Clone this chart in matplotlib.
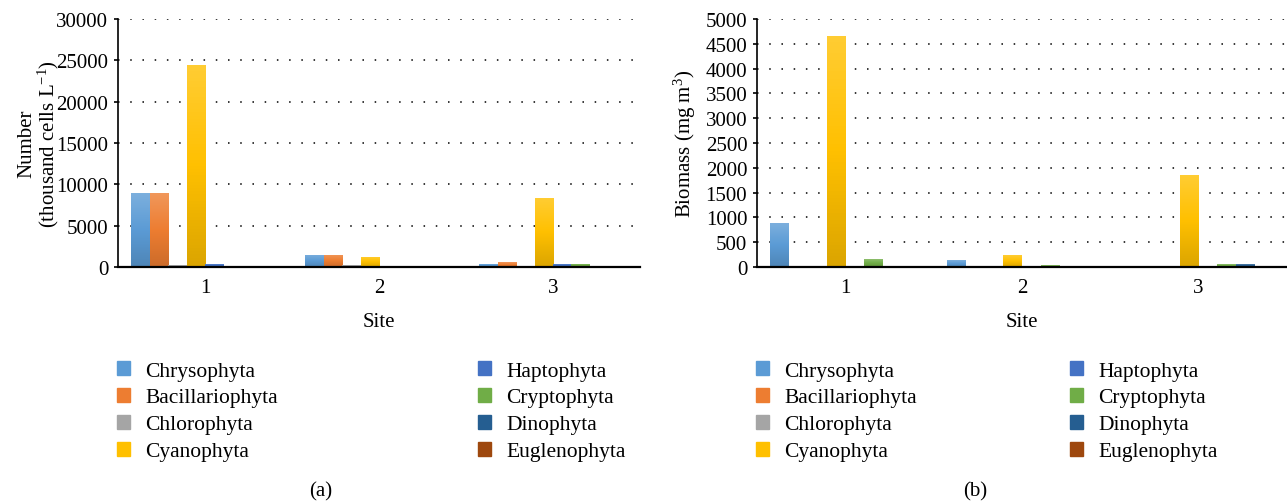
import numpy as np
import matplotlib.pyplot as plt
from matplotlib.colors import LinearSegmentedColormap, to_rgb

plt.rcParams["font.family"] = ["Liberation Serif", "DejaVu Serif"]
plt.rcParams["mathtext.fontset"] = "custom"
plt.rcParams["mathtext.rm"] = "Liberation Serif"
plt.rcParams["mathtext.it"] = "Liberation Serif:italic"

sites = ["1", "2", "3"]
groups = ["Chrysophyta", "Bacillariophyta", "Chlorophyta", "Cyanophyta",
          "Haptophyta", "Cryptophyta", "Dinophyta", "Euglenophyta"]
colors = ["#5B9BD5", "#ED7D31", "#A5A5A5", "#FFC000",
          "#4472C4", "#70AD47", "#255E91", "#9E480E"]

# number (thousand cells / L), one list per group, values per site
number = {
    "Chrysophyta":     [8900, 1500, 400],
    "Bacillariophyta": [8900, 1500, 550],
    "Chlorophyta":     [250, 250, 30],
    "Cyanophyta":      [24400, 1250, 8400],
    "Haptophyta":      [400, 0, 400],
    "Cryptophyta":     [150, 150, 400],
    "Dinophyta":       [0, 0, 60],
    "Euglenophyta":    [60, 0, 0],
}
# biomass (mg m^3)
biomass = {
    "Chrysophyta":     [880, 140, 20],
    "Bacillariophyta": [0, 0, 20],
    "Chlorophyta":     [0, 0, 20],
    "Cyanophyta":      [4660, 240, 1860],
    "Haptophyta":      [20, 0, 20],
    "Cryptophyta":     [160, 40, 60],
    "Dinophyta":       [0, 0, 60],
    "Euglenophyta":    [25, 0, 0],
}

FS = 15


def shade(c, f):
    r = np.array(to_rgb(c))
    if f > 1:
        return tuple(r + (1 - r) * (f - 1))
    return tuple(r * f)


def gradient_bars(ax, bars, color):
    cmap = LinearSegmentedColormap.from_list(
        "g", [shade(color, 0.86), color, shade(color, 1.2)])
    grad = np.linspace(0, 1, 64).reshape(-1, 1)
    for b in bars:
        x, y = b.get_xy()
        w, h = b.get_width(), b.get_height()
        if h <= 0:
            continue
        im = ax.imshow(grad, cmap=cmap, aspect="auto", origin="lower",
                       extent=[x, x + w, y, y + h], zorder=2)
        im.set_clip_path(b)


def draw_panel(ax, data, ymax, ystep, ylabel):
    n = len(groups)
    xs = np.arange(len(sites))
    width = 0.85 / n
    for i, g in enumerate(groups):
        offs = xs - 0.425 + width * (i + 0.5)
        bars = ax.bar(offs, data[g], width, color=colors[i], zorder=2,
                      linewidth=0)
        gradient_bars(ax, bars, colors[i])
    ax.set_xlim(-0.5, len(sites) - 0.5)
    ax.set_ylim(0, ymax)
    ax.set_yticks(np.arange(0, ymax + 1, ystep))
    ax.set_xticks(xs)
    ax.set_xticklabels(sites)
    ax.yaxis.grid(True, color="black", linestyle=(0, (1, 7)), linewidth=1.1)
    ax.set_axisbelow(True)
    for s in ["top", "right"]:
        ax.spines[s].set_visible(False)
    ax.spines["left"].set_linewidth(1.2)
    ax.spines["bottom"].set_linewidth(1.6)
    ax.spines["bottom"].set_zorder(3)
    ax.tick_params(axis="x", length=0, pad=8, labelsize=FS)
    ax.tick_params(axis="y", length=3, width=1.2, pad=4, labelsize=FS)
    ax.set_xlabel("Site", fontsize=FS)
    ax.xaxis.set_label_coords(0.5, -0.18)
    ax.set_ylabel(ylabel, fontsize=FS, linespacing=0.95)


fig = plt.figure(figsize=(12.87, 5.02), dpi=100)
W, H = 1287, 502
ax1 = fig.add_axes([118 / W, (H - 268) / H, 522 / W, 248 / H])
ax2 = fig.add_axes([757 / W, (H - 268) / H, 530 / W, 248 / H])

draw_panel(ax1, number, 30000, 5000, "Number\n(thousand cells L$^{-1}$)")
ax1.yaxis.set_label_coords(-0.11, 0.5)
draw_panel(ax2, biomass, 5000, 500, "Biomass (mg m$^{3}$)")
ax2.yaxis.set_label_coords(-0.111, 0.5)

handles = [plt.Rectangle((0, 0), 1, 1, color=c) for c in colors]


def legend_col(x, y, idx):
    fig.legend([handles[i] for i in idx], [groups[i] for i in idx],
               loc="upper left", bbox_to_anchor=(x / W, (H - y) / H),
               frameon=False, fontsize=15.5, handlelength=0.62,
               handleheight=0.62, handletextpad=0.7, labelspacing=0.34,
               borderaxespad=0, borderpad=0)


legend_col(117, 362, [0, 1, 2, 3])
legend_col(478, 362, [4, 5, 6, 7])
legend_col(756, 362, [0, 1, 2, 3])
legend_col(1070, 362, [4, 5, 6, 7])

fig.text(321 / W, (H - 492) / H, "(a)", ha="center", va="center", fontsize=FS)
fig.text(975 / W, (H - 492) / H, "(b)", ha="center", va="center", fontsize=FS)

fig.savefig("out.png", dpi=100)
